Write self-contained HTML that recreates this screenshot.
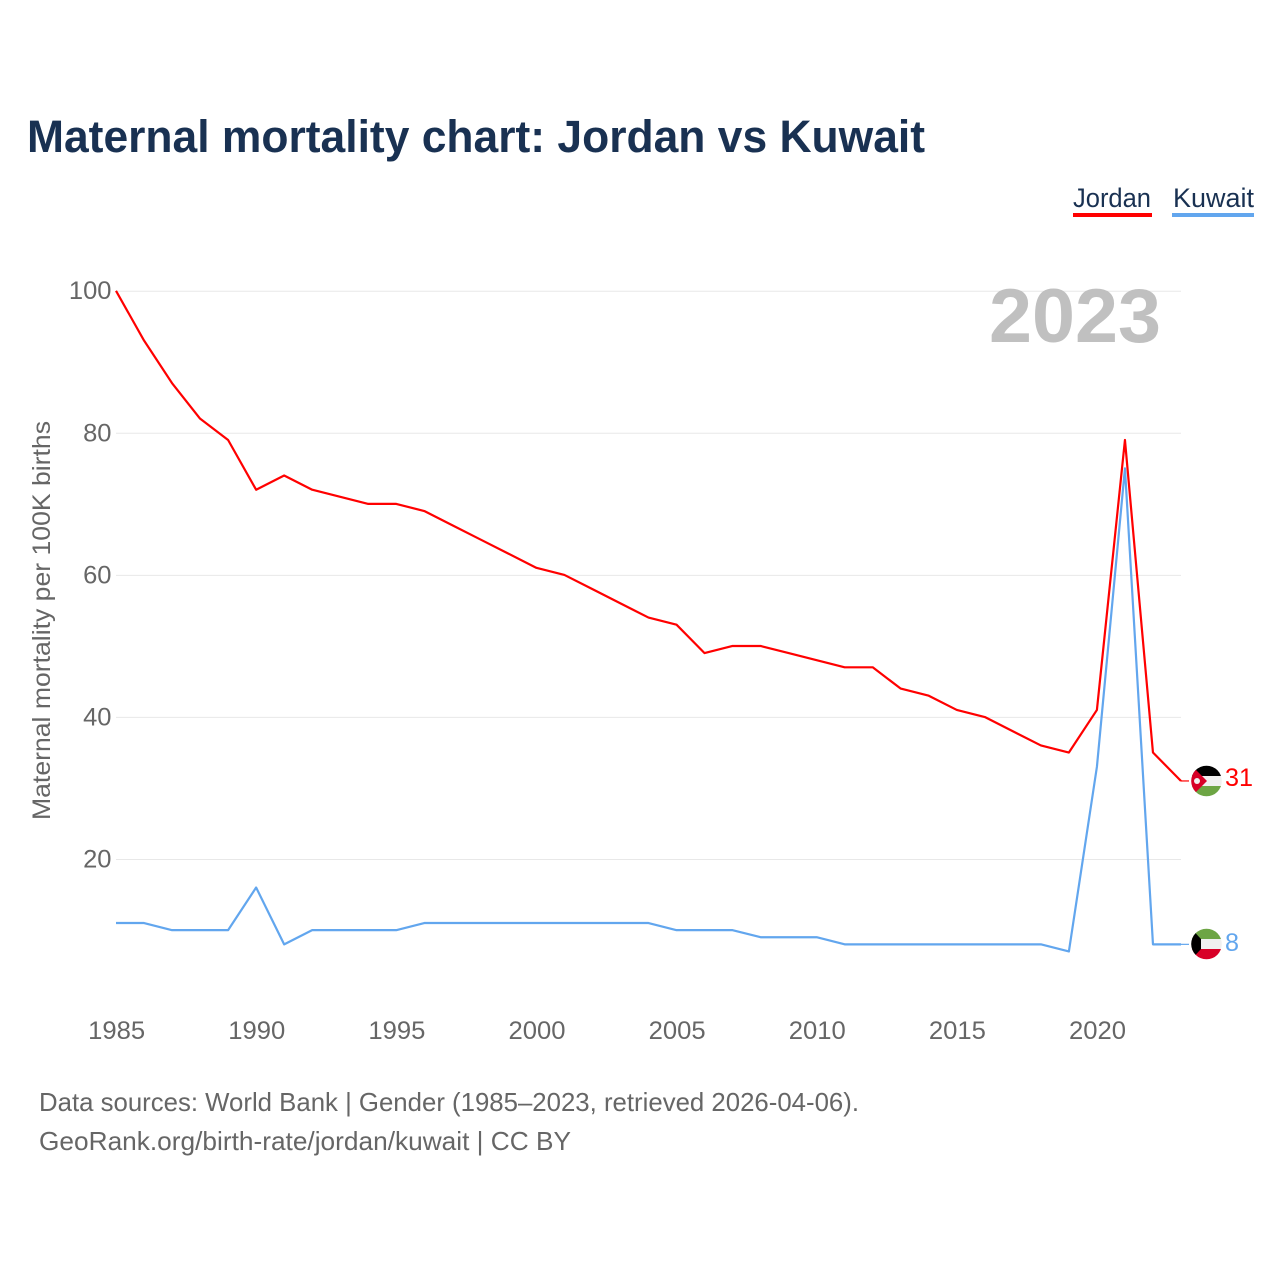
<!DOCTYPE html>
<html lang="en">
<head>
<meta charset="utf-8">
<title>Maternal mortality chart: Jordan vs Kuwait</title>
<style>
html,body{margin:0;padding:0;background:#fff;width:1280px;height:1280px;overflow:hidden}
svg{display:block}
text{font-family:"Liberation Sans",sans-serif}
</style>
</head>
<body>
<svg id="chart" xmlns="http://www.w3.org/2000/svg" width="1280" height="1280" viewBox="0 0 1280 1280">
  <defs>
    <clipPath id="clip-jordan"><circle cx="1206.5" cy="781" r="15.3"/></clipPath>
    <clipPath id="clip-kuwait"><circle cx="1206.5" cy="944" r="15.3"/></clipPath>
  </defs>
  <rect x="0" y="0" width="1280" height="1280" fill="#fff"/>
  <text x="27" y="152" font-size="45" font-weight="700" fill="#193152" textLength="898" lengthAdjust="spacingAndGlyphs">Maternal mortality chart: Jordan vs Kuwait</text>

  <g>
    <g>
      <text x="1073" y="207" font-size="27" fill="#193152" textLength="78" lengthAdjust="spacingAndGlyphs">Jordan</text>
      <rect x="1073" y="213" width="79" height="4" fill="#ff0000"/>
    </g>
    <g>
      <text x="1173" y="207" font-size="27" fill="#193152" textLength="81" lengthAdjust="spacingAndGlyphs">Kuwait</text>
      <rect x="1172" y="213" width="82" height="4" fill="#62a6ee"/>
    </g>
  </g>

  <g id="grid"></g>
  <g id="y-ticks"></g>
  <g id="x-ticks"></g>

  <text transform="translate(50,820) rotate(-90)" x="0" y="0" font-size="25" fill="#666" textLength="399" lengthAdjust="spacingAndGlyphs">Maternal mortality per 100K births</text>

  <text x="989" y="342" font-size="76" font-weight="700" fill="#c0c0c0" textLength="172" lengthAdjust="spacingAndGlyphs">2023</text>

  <g id="series"></g>

  <g clip-path="url(#clip-jordan)">
    <rect x="1191" y="765" width="32" height="11" fill="#000"/>
    <rect x="1191" y="776" width="32" height="10" fill="#f0f0f0"/>
    <rect x="1191" y="786" width="32" height="11" fill="#6da544"/>
    <polygon points="1189,763 1207,781 1189,799" fill="#d80027"/>
    <circle cx="1197" cy="781" r="3" fill="#f0f0f0"/>
  </g>
  <g clip-path="url(#clip-kuwait)">
    <rect x="1191" y="928" width="32" height="11" fill="#6da544"/>
    <rect x="1191" y="939" width="32" height="10" fill="#f0f0f0"/>
    <rect x="1191" y="949" width="32" height="11" fill="#d80027"/>
    <polygon points="1189,926 1201,939 1201,949 1189,962" fill="#000"/>
  </g>

  <text id="end-jordan" x="1225" y="786" font-size="25" fill="#ff0000" textLength="28" lengthAdjust="spacingAndGlyphs"></text>
  <text id="end-kuwait" x="1225" y="951" font-size="25" fill="#62a6ee" textLength="14" lengthAdjust="spacingAndGlyphs"></text>

  <text x="39" y="1111" font-size="26" fill="#666" textLength="820" lengthAdjust="spacingAndGlyphs">Data sources: World Bank | Gender (1985–2023, retrieved 2026-04-06).</text>
  <text x="39" y="1150" font-size="26" fill="#666" textLength="532" lengthAdjust="spacingAndGlyphs">GeoRank.org/birth-rate/jordan/kuwait | CC BY</text>
</svg>
<script>
const years = [1985,1986,1987,1988,1989,1990,1991,1992,1993,1994,1995,1996,1997,1998,1999,2000,2001,2002,2003,2004,2005,2006,2007,2008,2009,2010,2011,2012,2013,2014,2015,2016,2017,2018,2019,2020,2021,2022,2023];
const jordanValues = [100,93,87,82,79,72,74,72,71,70,70,69,67,65,63,61,60,58,56,54,53,49,50,50,49,48,47,47,44,43,41,40,38,36,35,41,79,35,31];
const kuwaitValues = [11,11,10,10,10,16,8,10,10,10,10,11,11,11,11,11,11,11,11,11,10,10,10,9,9,9,8,8,8,8,8,8,8,8,7,33,75,8,8];
const yTickValues = [20,40,60,80,100];
const xTickValues = [1985,1990,1995,2000,2005,2010,2015,2020];

const NS = 'http://www.w3.org/2000/svg';
function xScale(year){ return 116 + (year - 1985) * (1181 - 116) / (2023 - 1985); }
function yScale(value){ return 859.5 - (value - 20) * (859.5 - 291.2) / 80; }
function make(tag, attrs){
  const el = document.createElementNS(NS, tag);
  for (const k in attrs) el.setAttribute(k, attrs[k]);
  return el;
}

const grid = document.getElementById('grid');
const yTicks = document.getElementById('y-ticks');
yTickValues.forEach(function(v){
  const line = make('line', {x1:116, x2:1181, y1:yScale(v), y2:yScale(v), stroke:'#e8e8e8', 'stroke-width':1});
  
  
  grid.appendChild(line);
  const t = make('text', {x:111.5, y:yScale(v) + 8, 'text-anchor':'end', 'font-size':25, fill:'#666'});
  
  
  t.setAttribute('textLength', String(v).length * 14.2);
  t.setAttribute('lengthAdjust', 'spacingAndGlyphs');
  t.textContent = v;
  yTicks.appendChild(t);
});

const xTicks = document.getElementById('x-ticks');
xTickValues.forEach(function(y){
  const t = make('text', {x:xScale(y) + 0.6, y:1039, 'text-anchor':'middle', 'font-size':25, fill:'#666'});
  
  
  t.setAttribute('textLength', 57);
  t.setAttribute('lengthAdjust', 'spacingAndGlyphs');
  t.textContent = y;
  xTicks.appendChild(t);
});

function pathFor(values){
  return values.map(function(v, i){
    return (i ? 'L' : 'M') + xScale(years[i]).toFixed(2) + ' ' + (yScale(v) - 0.4).toFixed(2);
  }).join(' ');
}
const series = document.getElementById('series');

const kuwaitLine = make('path', {d:pathFor(kuwaitValues), fill:'none', stroke:'#62a6ee', 'stroke-width':2.2, 'stroke-linejoin':'round'});


series.appendChild(kuwaitLine);

const jordanLine = make('path', {d:pathFor(jordanValues), fill:'none', stroke:'#ff0000', 'stroke-width':2.2, 'stroke-linejoin':'round'});


series.appendChild(jordanLine);

const jordanLast = jordanValues[jordanValues.length - 1];
const kuwaitLast = kuwaitValues[kuwaitValues.length - 1];
document.getElementById('end-jordan').textContent = jordanLast;
document.getElementById('end-kuwait').textContent = kuwaitLast;

const jordanLead = make('line', {x1:1181, x2:1189, y1:yScale(jordanLast) - 0.4, y2:yScale(jordanLast) - 0.4, stroke:'#ff0000', 'stroke-width':1.2});


series.appendChild(jordanLead);

const kuwaitLead = make('line', {x1:1181, x2:1189, y1:yScale(kuwaitLast) - 0.4, y2:yScale(kuwaitLast) - 0.4, stroke:'#62a6ee', 'stroke-width':1.2});


series.appendChild(kuwaitLead);
</script>
</body>
</html>
